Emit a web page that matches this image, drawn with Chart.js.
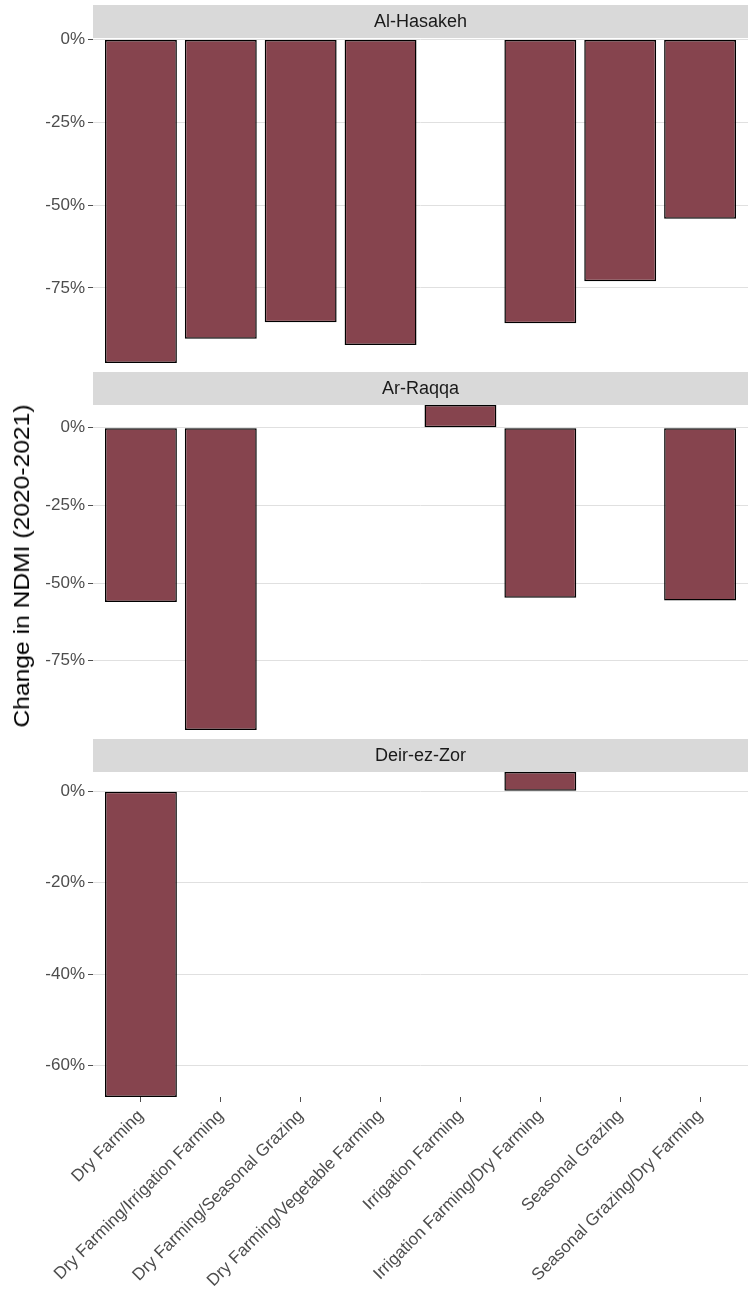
<!DOCTYPE html>
<html>
<head>
<meta charset="utf-8">
<title>Change in NDMI (2020-2021)</title>
<script src="https://cdn.jsdelivr.net/npm/chart.js@4.4.1/dist/chart.umd.min.js"></script>
<style>
  html, body { margin: 0; padding: 0; background: #fff; }
  #wrap { position: relative; width: 753px; height: 1289px; overflow: hidden; }
  #wrap canvas { position: absolute; left: 0; }
  #yTitle {
    position: absolute; left: 22px; top: 566px;
    transform: translate(-50%, -50%) rotate(-90deg) scaleX(1.12);
    font: 22px "Liberation Sans", Arial, sans-serif;
    color: #000; white-space: nowrap;
  }
</style>
</head>
<body>
<div id="wrap">
  <canvas id="panel1" width="753" height="377" style="top:0px"></canvas>
  <canvas id="panel2" width="753" height="377" style="top:367px"></canvas>
  <canvas id="panel3" width="753" height="555" style="top:734px"></canvas>
  <div id="yTitle">Change in NDMI (2020-2021)</div>
</div>
<script>
const categories = [
  "Dry Farming",
  "Dry Farming/Irrigation Farming",
  "Dry Farming/Seasonal Grazing",
  "Dry Farming/Vegetable Farming",
  "Irrigation Farming",
  "Irrigation Farming/Dry Farming",
  "Seasonal Grazing",
  "Seasonal Grazing/Dry Farming",
];
const regions = ["Al-Hasakeh", "Ar-Raqqa", "Deir-ez-Zor"];

// % change per land use, null = no data for that region
const hasakehValues = [-97.7, -90.4, -85.4, -92.3, null, -85.7, -73.0, -54.1];
const raqqaValues = [-56.1, -97.3, null, null, 7.3, -54.7, null, -55.6];
const deirValues = [-66.9, null, null, null, null, 4.2, null, null];

const hasakehTicks = [-75, -50, -25, 0];
const raqqaTicks = [-75, -50, -25, 0];
const deirTicks = [-60, -40, -20, 0];

// free y limits of each facet
const hasakehRange = [-97.7, 0.45];
const raqqaRange = [-97.3, 7.3];
const deirRange = [-66.9, 4.2];

const FONT = '"Liberation Sans", Arial, sans-serif';
const BAR_FILL = "#86444e";

const stripPlugin = {
  id: "strip",
  beforeDraw(chart, args, opts) {
    const { ctx, chartArea } = chart;
    ctx.save();
    ctx.fillStyle = "#d9d9d9";
    ctx.fillRect(chartArea.left, chartArea.top - 33, chartArea.right - chartArea.left, 33);
    ctx.fillStyle = "#1a1a1a";
    ctx.font = "18px " + FONT;
    ctx.textAlign = "center";
    ctx.textBaseline = "middle";
    ctx.fillText(opts.text, (chartArea.left + chartArea.right) / 2, chartArea.top - 16);
    ctx.restore();
  },
};

function makePanel(canvasId, region, values, yTicks, yRange, showX) {
  const ctx = document.getElementById(canvasId).getContext("2d");
  return new Chart(ctx, {
    type: "bar",
    data: {
      datasets: [
        {
          label: region,
          data: values.map((v, i) => ({ x: i + 1, y: v })),
          backgroundColor: BAR_FILL,
          borderColor: "#000",
          borderWidth: 1.5,
          borderSkipped: false,
          barPercentage: 0.9,
          categoryPercentage: 1.0,
        },
      ],
    },
    options: {
      responsive: false,
      animation: false,
      layout: { padding: { top: 38, right: 5, bottom: showX ? 0 : 14, left: 0 } },
      plugins: {
        legend: { display: false },
        tooltip: { enabled: false },
        strip: { text: region },
      },
      scales: {
        x: {
          type: "linear",
          min: 0.4,
          max: 8.6,
          offset: false,
          display: showX,
          afterBuildTicks: (s) => {
            s.ticks = categories.map((c, i) => ({ value: i + 1 }));
          },
          afterFit: (s) => {
            if (showX) s.height = 192;
          },
          ticks: {
            autoSkip: false,
            minRotation: 45,
            maxRotation: 45,
            padding: 4,
            color: "#4d4d4d",
            font: { family: FONT, size: 17 },
            callback: (v) => categories[v - 1],
          },
          grid: { offset: false, drawOnChartArea: false, tickLength: 5, tickColor: "#4d4d4d" },
          border: { display: false },
        },
        y: {
          min: yRange[0],
          max: yRange[1],
          afterBuildTicks: (s) => {
            s.ticks = yTicks.map((v) => ({ value: v }));
          },
          afterFit: (s) => {
            s.width = 93;
          },
          ticks: {
            color: "#4d4d4d",
            padding: 3,
            font: { family: FONT, size: 17 },
            callback: (v) => v + "%",
          },
          grid: { color: "#e0e0e0", lineWidth: 1, tickLength: 5, tickColor: "#4d4d4d" },
          border: { display: false },
        },
      },
    },
    plugins: [stripPlugin],
  });
}

makePanel("panel1", regions[0], hasakehValues, hasakehTicks, hasakehRange, false);
makePanel("panel2", regions[1], raqqaValues, raqqaTicks, raqqaRange, false);
makePanel("panel3", regions[2], deirValues, deirTicks, deirRange, true);
</script>
</body>
</html>
